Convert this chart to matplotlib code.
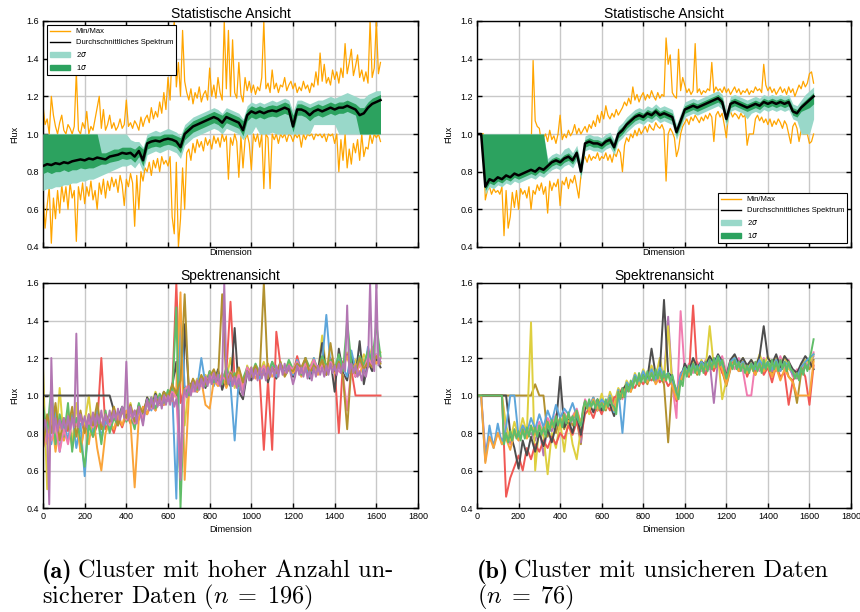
import numpy as np
import matplotlib.pyplot as plt
from matplotlib.lines import Line2D
from matplotlib.patches import Patch

# dimension grids (every 20 / every 10 dimensions)
X20 = np.arange(0, 1621, 20)
X10 = np.arange(0, 1621, 10)

# ---- cluster (a): statistics ----
mean_a = [0.83, 0.84, 0.835, 0.845, 0.84, 0.85, 0.845, 0.855, 0.86, 0.865,
          0.86, 0.87, 0.865, 0.875, 0.87, 0.865, 0.88, 0.885, 0.89, 0.90,
          0.895, 0.90, 0.88, 0.91, 0.86, 0.95, 0.96, 0.965, 0.96, 0.97,
          0.975, 0.97, 0.96, 0.93, 1.00, 1.02, 1.04, 1.05, 1.06, 1.07,
          1.08, 1.09, 1.08, 1.06, 1.09, 1.08, 1.07, 1.06, 1.02, 1.10,
          1.12, 1.11, 1.12, 1.11, 1.12, 1.125, 1.12, 1.13, 1.14, 1.13,
          1.04, 1.13, 1.13, 1.12, 1.10, 1.12, 1.13, 1.12, 1.13, 1.14,
          1.13, 1.14, 1.14, 1.15, 1.14, 1.13, 1.10, 1.11, 1.14, 1.16,
          1.17, 1.18]
up1_a = [1.00, 1.00, 1.00, 1.00, 1.00, 1.00, 1.00, 1.00, 1.00, 1.00,
         1.00, 1.00, 1.00, 1.00, 0.90, 0.90, 0.91, 0.92, 0.92, 0.93,
         0.93, 0.93, 0.92, 0.94, 0.92, 0.98, 0.99, 0.99, 0.99, 1.00,
         1.00, 1.00, 0.99, 0.98, 1.03, 1.05, 1.07, 1.08, 1.09, 1.10,
         1.11, 1.12, 1.11, 1.10, 1.12, 1.11, 1.10, 1.09, 1.07, 1.13,
         1.15, 1.14, 1.15, 1.14, 1.15, 1.155, 1.15, 1.16, 1.17, 1.16,
         1.10, 1.16, 1.16, 1.15, 1.14, 1.15, 1.16, 1.15, 1.16, 1.17,
         1.16, 1.17, 1.17, 1.18, 1.17, 1.16, 1.14, 1.14, 1.17, 1.19,
         1.20, 1.21]
lo1_a = [0.79, 0.80, 0.79, 0.80, 0.80, 0.81, 0.80, 0.81, 0.81, 0.82,
         0.815, 0.82, 0.82, 0.83, 0.84, 0.84, 0.85, 0.855, 0.86, 0.87,
         0.865, 0.87, 0.85, 0.88, 0.83, 0.92, 0.93, 0.935, 0.93, 0.94,
         0.945, 0.94, 0.93, 0.90, 0.97, 0.99, 1.01, 1.02, 1.03, 1.04,
         1.05, 1.06, 1.05, 1.03, 1.06, 1.05, 1.04, 1.03, 0.99, 1.07,
         1.09, 1.08, 1.09, 1.08, 1.09, 1.095, 1.09, 1.10, 1.11, 1.10,
         1.01, 1.10, 1.10, 1.09, 1.07, 1.09, 1.10, 1.09, 1.10, 1.11,
         1.10, 1.11, 1.11, 1.12, 1.11, 1.10, 1.00, 1.00, 1.00, 1.00,
         1.00, 1.00]
up2_a = [1.00, 1.00, 1.00, 1.00, 1.00, 1.00, 1.00, 1.00, 1.00, 1.00,
         1.00, 1.00, 1.00, 1.00, 1.00, 1.00, 1.00, 1.00, 1.00, 1.00,
         1.00, 0.97, 0.96, 0.96, 0.93, 1.00, 1.01, 1.02, 1.01, 1.02,
         1.03, 1.02, 1.01, 0.99, 1.05, 1.07, 1.09, 1.10, 1.11, 1.12,
         1.13, 1.14, 1.13, 1.11, 1.14, 1.13, 1.12, 1.11, 1.08, 1.15,
         1.17, 1.16, 1.17, 1.16, 1.17, 1.18, 1.17, 1.18, 1.19, 1.18,
         1.12, 1.18, 1.18, 1.17, 1.16, 1.17, 1.18, 1.18, 1.19, 1.20,
         1.19, 1.20, 1.21, 1.22, 1.21, 1.20, 1.19, 1.19, 1.21, 1.22,
         1.23, 1.23]
lo2_a = [0.70, 0.71, 0.71, 0.72, 0.72, 0.73, 0.73, 0.74, 0.74, 0.75,
         0.75, 0.76, 0.76, 0.77, 0.78, 0.79, 0.80, 0.81, 0.82, 0.83,
         0.83, 0.84, 0.82, 0.85, 0.80, 0.89, 0.90, 0.91, 0.90, 0.91,
         0.92, 0.91, 0.90, 0.87, 0.94, 0.96, 0.98, 0.99, 1.00, 1.01,
         1.02, 1.03, 1.02, 1.00, 1.03, 1.02, 1.01, 1.00, 0.97, 1.00,
         1.00, 1.04, 1.00, 1.00, 1.00, 1.01, 1.00, 1.00, 1.00, 1.00,
         1.00, 1.00, 1.00, 1.00, 1.00, 1.05, 1.05, 1.05, 1.05, 1.05,
         1.05, 1.00, 1.00, 1.00, 1.00, 1.00, 1.00, 1.00, 1.00, 1.00,
         1.00, 1.00]
max_a = [1.15, 1.05, 1.08, 1.00, 1.20, 1.10, 1.04, 1.00, 1.06, 1.10,
         1.02, 1.00, 1.05, 1.03, 1.00, 1.04, 1.33, 1.02, 1.00, 1.06,
         1.03, 1.12, 1.00, 1.04, 1.02, 1.08, 1.14, 1.20, 1.03, 1.13,
         1.02, 1.05, 1.10, 1.03, 1.06, 1.02, 1.04, 1.08, 1.03, 1.05,
         1.18, 1.04, 1.06, 1.03, 1.07, 1.05, 1.02, 1.09, 1.04, 1.08,
         1.10, 1.06, 1.14, 1.08, 1.12, 1.09, 1.17, 1.11, 1.22, 1.13,
         1.30, 1.18, 1.45, 1.60, 1.25, 1.38, 1.20, 1.55, 1.28, 1.22,
         1.18, 1.24, 1.16, 1.22, 1.19, 1.25, 1.17, 1.21, 1.23, 1.18,
         1.35, 1.20, 1.26, 1.19, 1.30, 1.22, 1.18, 1.60, 1.24, 1.55,
         1.20, 1.50, 1.22, 1.19, 1.38, 1.21, 1.17, 1.30, 1.23, 1.28,
         1.22, 1.26, 1.21, 1.25, 1.23, 1.30, 1.60, 1.24, 1.27, 1.22,
         1.34, 1.24, 1.27, 1.22, 1.26, 1.25, 1.30, 1.23, 1.26, 1.28,
         1.24, 1.27, 1.22, 1.25, 1.23, 1.28, 1.24, 1.26, 1.22, 1.27,
         1.25, 1.33, 1.26, 1.43, 1.28, 1.37, 1.27, 1.30, 1.26, 1.34,
         1.29, 1.33, 1.27, 1.35, 1.30, 1.48, 1.32, 1.38, 1.45, 1.31,
         1.36, 1.42, 1.30, 1.34, 1.28, 1.33, 1.27, 1.60, 1.30, 1.35,
         1.60, 1.32, 1.38]
min_a = [0.68, 0.50, 0.62, 0.72, 0.42, 0.66, 0.55, 0.70, 0.58, 0.73,
         0.64, 0.72, 0.60, 0.74, 0.66, 0.70, 0.43, 0.72, 0.65, 0.74,
         0.63, 0.72, 0.67, 0.75, 0.65, 0.70, 0.60, 0.74, 0.68, 0.76,
         0.66, 0.75, 0.70, 0.77, 0.72, 0.76, 0.69, 0.78, 0.73, 0.62,
         0.76, 0.72, 0.79, 0.74, 0.51, 0.78, 0.60, 0.80, 0.75, 0.82,
         0.80, 0.85, 0.78, 0.86, 0.82, 0.87, 0.80, 0.88, 0.84, 0.86,
         0.83, 0.88, 0.56, 0.47, 0.85, 0.40, 0.55, 0.82, 0.60, 0.90,
         0.92, 0.86, 0.95, 0.90, 0.97, 0.93, 0.96, 0.91, 0.98, 0.94,
         0.97, 0.92, 0.99, 0.95, 0.98, 0.93, 1.00, 0.96, 0.99, 0.76,
         0.98, 0.94, 1.00, 0.96, 0.77, 0.99, 0.82, 0.97, 1.00, 0.95,
         0.81, 1.00, 0.96, 1.00, 0.93, 1.00, 0.71, 1.00, 0.98, 0.71,
         1.00, 0.97, 1.00, 0.95, 1.00, 0.98, 1.00, 0.96, 1.00, 0.99,
         0.96, 1.00, 0.98, 1.00, 0.93, 1.00, 0.97, 1.00, 0.99, 1.00,
         0.97, 1.00, 0.99, 1.00, 0.98, 1.00, 0.96, 1.00, 0.99, 1.00,
         0.95, 1.00, 0.80, 0.97, 0.86, 1.00, 0.82, 0.92, 0.84, 0.95,
         0.90, 0.97, 0.86, 1.00, 0.88, 0.93, 0.92, 1.00, 0.95, 1.00,
         0.98, 1.00, 0.96]

# ---- cluster (b): statistics ----
mean_b = [1.00, 1.00, 0.72, 0.76, 0.75, 0.77, 0.76, 0.78, 0.77, 0.79,
          0.78, 0.79, 0.80, 0.81, 0.80, 0.82, 0.81, 0.83, 0.85, 0.86,
          0.85, 0.87, 0.88, 0.86, 0.90, 0.80, 0.95, 0.96, 0.95, 0.95,
          0.94, 0.96, 0.97, 0.93, 1.00, 1.02, 1.05, 1.07, 1.09, 1.10,
          1.09, 1.11, 1.10, 1.12, 1.10, 1.11, 1.10, 1.09, 1.01, 1.07,
          1.13, 1.14, 1.15, 1.14, 1.15, 1.16, 1.17, 1.18, 1.19, 1.17,
          1.08, 1.16, 1.17, 1.16, 1.15, 1.14, 1.15, 1.16, 1.15, 1.17,
          1.16, 1.17, 1.16, 1.17, 1.16, 1.17, 1.12, 1.11, 1.14, 1.16,
          1.18, 1.20]
up1_b = [1.00, 1.00, 1.00, 1.00, 1.00, 1.00, 1.00, 1.00, 1.00, 1.00,
         1.00, 1.00, 1.00, 1.00, 1.00, 1.00, 1.00, 0.85, 0.87, 0.88,
         0.87, 0.89, 0.90, 0.88, 0.92, 0.83, 0.97, 0.98, 0.97, 0.97,
         0.96, 0.98, 0.99, 0.95, 1.02, 1.04, 1.07, 1.09, 1.11, 1.12,
         1.11, 1.13, 1.12, 1.14, 1.12, 1.13, 1.12, 1.11, 1.03, 1.09,
         1.15, 1.16, 1.17, 1.16, 1.17, 1.18, 1.19, 1.20, 1.21, 1.19,
         1.10, 1.18, 1.19, 1.18, 1.17, 1.16, 1.17, 1.18, 1.17, 1.19,
         1.18, 1.19, 1.18, 1.19, 1.18, 1.19, 1.14, 1.13, 1.16, 1.18,
         1.20, 1.22]
lo1_b = [1.00, 1.00, 0.70, 0.74, 0.73, 0.75, 0.74, 0.76, 0.75, 0.77,
         0.76, 0.77, 0.78, 0.79, 0.78, 0.80, 0.79, 0.81, 0.83, 0.84,
         0.83, 0.85, 0.86, 0.84, 0.88, 0.78, 0.93, 0.94, 0.93, 0.93,
         0.92, 0.94, 0.95, 0.91, 0.98, 1.00, 1.03, 1.05, 1.07, 1.08,
         1.07, 1.09, 1.08, 1.10, 1.08, 1.09, 1.08, 1.07, 0.99, 1.05,
         1.11, 1.12, 1.13, 1.12, 1.13, 1.14, 1.15, 1.16, 1.17, 1.15,
         1.06, 1.14, 1.15, 1.14, 1.13, 1.12, 1.13, 1.14, 1.13, 1.15,
         1.14, 1.15, 1.14, 1.15, 1.14, 1.15, 1.10, 1.09, 1.12, 1.13,
         1.14, 1.16]
up2_b = [1.00, 1.00, 1.00, 1.00, 1.00, 1.00, 1.00, 1.00, 1.00, 1.00,
         1.00, 1.00, 1.00, 1.00, 1.00, 1.00, 1.00, 0.87, 0.89, 0.90,
         0.89, 0.92, 0.93, 0.90, 0.94, 0.85, 0.99, 1.00, 0.99, 0.99,
         0.98, 1.00, 1.01, 0.97, 1.04, 1.06, 1.09, 1.11, 1.13, 1.14,
         1.13, 1.15, 1.14, 1.16, 1.14, 1.15, 1.14, 1.13, 1.05, 1.11,
         1.17, 1.18, 1.19, 1.18, 1.19, 1.20, 1.21, 1.22, 1.23, 1.21,
         1.12, 1.20, 1.21, 1.20, 1.19, 1.18, 1.19, 1.20, 1.19, 1.21,
         1.20, 1.21, 1.20, 1.21, 1.20, 1.21, 1.16, 1.15, 1.18, 1.21,
         1.23, 1.25]
lo2_b = [1.00, 1.00, 0.68, 0.72, 0.71, 0.73, 0.72, 0.74, 0.73, 0.75,
         0.74, 0.75, 0.76, 0.77, 0.76, 0.78, 0.77, 0.79, 0.81, 0.82,
         0.81, 0.83, 0.84, 0.82, 0.86, 0.76, 0.91, 0.92, 0.91, 0.91,
         0.90, 0.92, 0.93, 0.89, 0.96, 0.98, 1.01, 1.03, 1.05, 1.06,
         1.05, 1.07, 1.06, 1.08, 1.06, 1.07, 1.06, 1.05, 0.97, 1.03,
         1.09, 1.10, 1.11, 1.10, 1.11, 1.12, 1.13, 1.14, 1.15, 1.13,
         1.04, 1.12, 1.13, 1.12, 1.11, 1.08, 1.11, 1.12, 1.11, 1.13,
         1.12, 1.13, 1.12, 1.13, 1.12, 1.13, 1.08, 1.07, 1.00, 1.00,
         1.00, 1.08]
max_b = [1.00, 1.00, 1.00, 1.00, 0.82, 0.85, 0.80, 0.86, 0.82, 0.84,
         0.83, 0.86, 0.84, 0.88, 0.85, 0.87, 0.90, 0.86, 0.88, 0.85,
         0.87, 0.89, 0.86, 0.90, 0.88, 0.91, 0.89, 1.39, 1.07, 1.04,
         1.03, 0.95, 0.98, 1.00, 0.96, 1.02, 0.97, 0.99, 0.95, 1.00,
         1.10, 0.97, 1.00, 0.98, 1.02, 0.99, 1.01, 1.05, 1.00, 1.03,
         1.00, 1.02, 1.04, 1.01, 1.05, 1.03, 1.07, 1.04, 1.10, 1.06,
         1.12, 1.08, 1.15, 1.10, 1.08, 1.11, 1.09, 1.13, 1.10, 1.12,
         1.14, 1.17, 1.15, 1.19, 1.16, 1.25, 1.18, 1.21, 1.17, 1.20,
         1.22, 1.18, 1.21, 1.19, 1.23, 1.20, 1.18, 1.22, 1.19, 1.21,
         1.20, 1.51, 1.37, 1.42, 1.22, 1.20, 1.19, 1.45, 1.23, 1.30,
         1.26, 1.22, 1.24, 1.21, 1.23, 1.48, 1.22, 1.24, 1.21, 1.23,
         1.22, 1.24, 1.23, 1.38, 1.22, 1.25, 1.23, 1.24, 1.22, 1.25,
         1.22, 1.24, 1.21, 1.23, 1.25, 1.22, 1.24, 1.21, 1.23, 1.22,
         1.24, 1.21, 1.23, 1.22, 1.25, 1.23, 1.24, 1.22, 1.37, 1.26,
         1.23, 1.25, 1.22, 1.24, 1.21, 1.23, 1.25, 1.22, 1.24, 1.21,
         1.25, 1.22, 1.24, 1.20, 1.23, 1.26, 1.24, 1.28, 1.25, 1.27,
         1.32, 1.33, 1.27]
min_b = [1.00, 1.00, 1.00, 1.00, 0.65, 0.70, 0.72, 0.68, 0.71, 0.69,
         0.70, 0.68, 0.72, 0.46, 0.70, 0.50, 0.56, 0.69, 0.61, 0.70,
         0.60, 0.71, 0.68, 0.70, 0.66, 0.72, 0.60, 0.70, 0.68, 0.73,
         0.70, 0.74, 0.68, 0.72, 0.58, 0.75, 0.70, 0.74, 0.72, 0.76,
         0.62, 0.75, 0.73, 0.77, 0.71, 0.76, 0.74, 0.78, 0.72, 0.66,
         0.78, 0.86, 0.88, 0.85, 0.89, 0.86, 0.88, 0.87, 0.90, 0.86,
         0.88, 0.87, 0.90, 0.86, 0.89, 0.85, 0.90, 0.88, 0.92, 0.90,
         0.80, 0.94, 0.98, 0.96, 1.00, 0.98, 1.02, 0.99, 1.03, 1.00,
         1.02, 1.04, 1.01, 1.05, 1.03, 1.02, 1.06, 1.04, 1.03, 1.05,
         1.02, 0.75, 1.00, 1.03, 1.01, 0.98, 0.88, 0.92, 1.00, 1.04,
         1.06, 1.08, 1.05, 1.09, 1.07, 1.10, 1.08, 1.06, 1.09, 1.07,
         1.10, 1.08, 1.11, 1.09, 0.96, 1.10, 1.12, 1.09, 1.11, 1.05,
         0.98, 1.10, 1.12, 1.09, 1.11, 1.10, 1.08, 1.11, 1.09, 1.10,
         0.94, 1.00, 1.00, 1.00, 1.08, 1.10, 1.07, 1.09, 1.06, 1.08,
         1.05, 1.08, 1.04, 1.07, 1.05, 1.08, 1.06, 1.03, 1.07, 1.05,
         1.00, 0.95, 1.04, 1.06, 1.03, 0.96, 1.02, 1.00, 1.00, 1.00,
         0.95, 0.96, 1.00]

# ---- cluster (a): single spectra, in drawing order ----
spec_a = {
    "#DECF3F": [1.15, 0.50, 0.95, 0.72, 1.04, 0.76, 0.88, 0.74, 0.96, 0.70,
                0.86, 1.00, 0.78, 0.92, 0.76, 0.88, 0.82, 0.94, 0.86, 0.91,
                0.88, 0.96, 0.84, 0.93, 0.90, 0.99, 0.95, 1.02, 0.96, 1.00,
                0.98, 1.04, 1.00, 1.32, 0.84, 1.06, 1.03, 1.09, 1.05, 1.11,
                1.07, 1.13, 1.06, 1.10, 1.08, 1.20, 1.04, 1.12, 1.00, 1.16,
                1.10, 1.14, 1.12, 1.18, 1.09, 1.15, 1.13, 1.17, 1.11, 1.16,
                1.14, 1.19, 1.12, 1.17, 1.15, 1.20, 1.12, 1.32, 1.14, 1.18,
                1.13, 1.20, 1.16, 1.23, 1.12, 1.19, 1.15, 1.22, 1.17, 1.26,
                1.19, 1.23],
    "#F15854": [0.84, 0.88, 0.82, 0.90, 0.83, 0.87, 0.81, 0.89, 0.85, 0.88,
                0.80, 0.86, 0.78, 0.84, 1.20, 0.82, 0.86, 0.80, 0.88, 0.83,
                0.90, 0.85, 0.92, 0.87, 0.94, 0.90, 0.97, 0.92, 1.00, 0.95,
                0.99, 1.02, 1.60, 0.96, 1.05, 1.00, 1.08, 1.03, 1.10, 1.05,
                1.13, 1.07, 1.09, 1.05, 1.12, 1.50, 1.08, 1.14, 1.06, 1.12,
                1.09, 1.15, 1.10, 0.71, 1.08, 0.71, 1.34, 1.16, 1.12, 1.18,
                1.11, 1.21, 1.13, 1.16, 1.10, 1.19, 1.14, 1.17, 1.12, 1.20,
                1.15, 0.80, 1.18, 1.22, 1.14, 1.00, 1.00, 1.00, 1.00, 1.00,
                1.00, 1.00],
    "#4D4D4D": [1.00, 1.00, 1.00, 1.00, 1.00, 1.00, 1.00, 1.00, 1.00, 1.00,
                1.00, 1.00, 1.00, 1.00, 1.00, 1.00, 1.00, 0.92, 0.88, 0.94,
                0.90, 0.93, 0.86, 0.95, 0.89, 0.99, 0.93, 1.01, 0.95, 1.02,
                0.98, 1.05, 1.18, 0.50, 1.38, 1.04, 1.08, 1.02, 1.10, 1.04,
                1.12, 1.06, 1.14, 1.03, 1.10, 1.05, 1.36, 1.02, 0.98, 1.12,
                1.08, 1.16, 1.10, 1.14, 1.07, 1.15, 1.09, 1.17, 1.12, 1.16,
                1.10, 1.18, 1.12, 1.20, 1.09, 1.17, 1.13, 1.28, 1.11, 1.19,
                1.02, 1.25, 1.12, 1.08, 1.22, 1.10, 1.29, 1.06, 1.18, 1.13,
                1.20, 1.15],
    "#5DA5DA": [0.78, 0.88, 0.74, 0.92, 0.70, 0.86, 0.76, 0.90, 0.72, 0.85,
                0.57, 0.88, 0.80, 0.92, 0.78, 0.86, 0.83, 0.90, 0.85, 0.93,
                0.87, 0.91, 0.84, 0.95, 0.86, 0.98, 0.92, 1.00, 0.95, 1.01,
                0.97, 1.03, 0.45, 1.44, 1.05, 1.02, 1.08, 1.04, 1.20, 1.06,
                1.10, 1.05, 1.12, 1.08, 1.14, 1.06, 0.76, 1.09, 1.03, 1.14,
                1.10, 1.16, 1.09, 1.15, 1.11, 1.18, 1.10, 1.17, 1.12, 1.15,
                1.11, 1.19, 1.14, 1.17, 1.10, 1.20, 1.13, 1.18, 1.43, 1.16,
                1.12, 1.21, 1.15, 1.10, 1.24, 1.14, 1.19, 1.12, 1.26, 1.16,
                1.22, 1.18],
    "#FAA43A": [0.82, 0.74, 0.90, 0.70, 0.86, 0.76, 0.92, 0.72, 0.88, 0.70,
                0.84, 0.74, 0.90, 0.72, 0.60, 0.80, 0.86, 0.82, 0.90, 0.84,
                0.92, 0.86, 0.51, 0.88, 0.94, 0.90, 0.97, 0.92, 0.99, 0.95,
                1.02, 0.97, 1.04, 1.55, 0.55, 1.00, 1.06, 1.02, 1.08, 0.95,
                0.93, 1.08, 1.05, 1.12, 1.04, 1.10, 1.07, 1.13, 1.04, 1.12,
                1.15, 1.09, 1.14, 1.11, 1.17, 1.10, 1.13, 1.16, 1.11, 1.18,
                1.12, 1.15, 1.10, 1.17, 1.13, 1.16, 1.11, 1.19, 1.14, 1.17,
                1.12, 1.18, 1.15, 1.21, 1.13, 1.17, 1.11, 1.19, 1.15, 1.22,
                1.17, 1.20],
    "#60BD68": [0.95, 0.80, 1.05, 0.74, 0.90, 0.78, 0.96, 0.70, 0.88, 0.76,
                0.62, 0.84, 0.78, 0.90, 0.74, 0.92, 0.80, 0.88, 0.84, 0.94,
                0.86, 0.90, 0.82, 0.96, 0.88, 0.95, 0.99, 0.93, 1.01, 0.96,
                1.03, 0.98, 1.47, 0.40, 1.04, 1.00, 1.07, 1.03, 1.10, 1.05,
                1.13, 1.07, 1.11, 1.06, 1.15, 1.08, 1.12, 1.05, 1.09, 1.15,
                1.11, 1.17, 1.12, 1.16, 1.10, 1.18, 1.13, 1.15, 1.12, 1.19,
                1.14, 1.17, 1.11, 1.20, 1.15, 1.18, 1.13, 1.21, 1.16, 1.19,
                1.14, 1.22, 1.13, 1.40, 1.17, 1.12, 1.21, 1.16, 1.24, 1.18,
                1.38, 1.21],
    "#F17CB0": [0.72, 0.80, 0.76, 0.84, 0.70, 0.82, 0.74, 0.86, 0.84, 0.88,
                0.82, 0.86, 0.83, 0.89, 0.85, 0.88, 0.84, 0.90, 0.86, 0.92,
                0.87, 0.90, 0.85, 0.93, 0.88, 0.96, 0.93, 0.98, 0.95, 1.00,
                0.97, 1.02, 0.99, 0.56, 1.03, 1.06, 1.02, 1.08, 1.05, 1.10,
                1.07, 1.12, 1.06, 1.10, 1.08, 1.13, 1.06, 1.11, 1.03, 1.15,
                1.11, 1.14, 1.12, 1.16, 1.10, 1.15, 1.13, 1.17, 1.11, 1.16,
                1.14, 1.18, 1.12, 1.17, 1.14, 1.19, 1.13, 1.16, 1.12, 1.18,
                1.15, 1.13, 1.11, 0.92, 1.15, 1.10, 1.17, 1.14, 1.20, 1.16,
                1.22, 1.18],
    "#B2912F": [0.72, 0.90, 0.80, 0.96, 0.76, 0.88, 0.82, 0.94, 0.78, 0.92,
                0.80, 0.90, 0.84, 0.96, 0.82, 0.90, 0.86, 0.94, 0.84, 0.92,
                0.88, 0.95, 0.86, 0.94, 0.91, 0.97, 0.94, 0.99, 0.96, 1.02,
                0.99, 1.06, 1.01, 1.08, 1.54, 1.02, 1.09, 1.04, 1.11, 1.06,
                1.10, 1.14, 1.08, 1.54, 1.06, 1.12, 1.09, 1.15, 1.07, 1.13,
                1.10, 1.16, 1.11, 1.60, 1.09, 1.15, 1.12, 1.18, 1.10, 1.14,
                1.13, 1.17, 1.15, 1.20, 1.12, 1.16, 1.14, 1.19, 1.11, 1.28,
                1.13, 1.18, 1.10, 0.82, 1.16, 1.12, 1.20, 1.14, 1.18, 1.15,
                1.21, 1.17],
    # last spectrum, sampled every 10 dimensions
    "#B276B2": [0.80, 0.87, 0.81, 0.42, 1.20, 0.80, 0.88, 0.81, 0.87, 0.82,
                0.88, 0.81, 0.89, 0.82, 0.88, 0.83, 1.33, 0.83, 0.90, 0.84,
                0.89, 0.83, 0.90, 0.84, 0.91, 0.84, 0.90, 0.85, 0.92, 0.84,
                0.90, 0.85, 0.92, 0.86, 0.92, 0.87, 0.93, 0.87, 0.94, 0.88,
                1.18, 0.87, 0.94, 0.88, 0.92, 0.85, 0.94, 0.89, 0.84, 0.92,
                0.98, 0.92, 0.99, 0.93, 1.00, 0.94, 0.99, 0.93, 1.00, 0.95,
                1.00, 0.95, 1.01, 0.94, 0.98, 0.92, 0.55, 0.98, 1.03, 0.99,
                1.05, 1.00, 1.07, 1.02, 1.08, 1.03, 1.09, 1.04, 1.10, 1.05,
                1.11, 1.06, 1.12, 1.07, 1.11, 1.05, 1.09, 1.60, 1.12, 1.06,
                1.11, 1.05, 1.10, 1.04, 1.09, 1.03, 1.00, 1.07, 1.13, 1.08,
                1.15, 1.09, 1.14, 1.08, 1.15, 1.09, 1.14, 1.08, 1.15, 1.10,
                1.15, 1.10, 1.16, 1.10, 1.17, 1.11, 1.17, 1.12, 1.16, 1.11,
                1.06, 1.10, 1.16, 1.11, 1.15, 1.10, 1.15, 1.09, 1.13, 1.08,
                1.15, 1.10, 1.16, 1.11, 1.15, 1.10, 1.16, 1.11, 1.17, 1.12,
                1.16, 1.11, 1.17, 1.12, 1.17, 1.13, 1.48, 1.12, 1.17, 1.12,
                1.16, 1.10, 1.13, 1.08, 1.14, 1.10, 1.16, 1.60, 1.18, 1.13,
                1.60, 1.16, 1.20],
}

# ---- cluster (b): single spectra, in drawing order ----
spec_b = {
    "#F17CB0": [1.00, 1.00, 1.00, 1.00, 1.00, 1.00, 1.00, 0.80, 0.74, 0.82,
                0.76, 0.84, 0.78, 0.83, 0.80, 0.86, 0.79, 0.88, 0.84, 0.90,
                0.82, 0.91, 0.86, 0.89, 0.93, 0.85, 0.98, 0.93, 0.99, 0.92,
                0.97, 0.93, 1.00, 0.95, 1.03, 0.98, 1.07, 1.03, 1.11, 1.06,
                1.12, 1.07, 1.13, 1.08, 1.14, 1.07, 1.12, 1.06, 0.88, 1.45,
                1.12, 1.17, 1.12, 1.18, 1.13, 1.19, 1.14, 1.20, 1.16, 1.21,
                1.12, 1.19, 1.14, 1.20, 1.13, 1.00, 1.00, 1.18, 1.13, 1.20,
                1.14, 1.19, 1.13, 1.21, 1.14, 1.19, 1.10, 1.14, 1.12, 1.18,
                1.15, 1.23],
    "#B2912F": [1.00, 1.00, 1.00, 1.00, 1.00, 1.00, 1.00, 1.00, 1.00, 1.00,
                1.00, 1.00, 1.00, 1.00, 1.06, 1.00, 1.00, 0.78, 0.86, 0.80,
                0.88, 0.82, 0.90, 0.84, 0.87, 0.74, 0.97, 0.91, 0.98, 0.92,
                0.96, 0.92, 0.99, 0.90, 1.02, 0.99, 1.06, 1.02, 1.10, 1.05,
                1.12, 1.06, 1.13, 1.08, 1.11, 1.06, 0.75, 1.08, 1.03, 1.06,
                1.14, 1.10, 1.16, 1.11, 1.17, 1.12, 1.18, 1.14, 1.20, 1.13,
                1.05, 1.14, 1.18, 1.13, 1.17, 1.12, 1.16, 1.11, 1.18, 1.13,
                1.17, 1.12, 1.19, 1.13, 1.18, 1.10, 1.08, 0.96, 1.12, 1.16,
                1.14, 1.19],
    "#B276B2": [1.00, 1.00, 0.70, 0.78, 0.74, 0.80, 0.76, 0.79, 0.75, 0.81,
                0.77, 0.82, 0.78, 0.80, 0.76, 0.83, 0.68, 0.85, 0.81, 0.87,
                0.83, 0.89, 0.84, 0.87, 0.91, 0.75, 0.96, 0.93, 0.97, 0.92,
                0.96, 0.93, 0.98, 0.92, 1.02, 1.00, 1.06, 1.03, 1.10, 1.06,
                1.11, 1.08, 1.12, 1.07, 1.13, 1.09, 1.42, 1.06, 0.99, 1.08,
                1.14, 1.11, 1.16, 1.12, 1.17, 1.13, 1.18, 0.96, 1.19, 1.15,
                1.07, 1.15, 1.18, 1.14, 1.17, 1.12, 1.16, 1.13, 1.17, 1.14,
                1.18, 1.13, 1.17, 1.14, 1.18, 1.15, 1.11, 1.09, 1.13, 1.15,
                1.17, 1.21],
    "#DECF3F": [1.00, 1.00, 1.00, 1.00, 1.00, 1.00, 1.00, 0.84, 0.76, 0.86,
                0.78, 0.88, 0.80, 1.39, 0.60, 0.84, 0.78, 0.58, 0.80, 0.72,
                0.86, 0.70, 0.88, 0.74, 0.66, 0.82, 0.96, 0.90, 0.99, 0.92,
                1.01, 0.93, 1.02, 0.96, 1.04, 1.00, 1.08, 1.04, 1.12, 1.07,
                1.14, 1.09, 1.16, 1.10, 1.20, 1.08, 1.37, 1.05, 1.01, 1.10,
                1.16, 1.12, 1.18, 1.13, 1.19, 1.14, 1.37, 1.15, 1.21, 0.98,
                1.08, 1.17, 1.21, 1.16, 1.20, 1.14, 1.19, 1.15, 1.22, 1.16,
                1.21, 1.15, 1.20, 1.16, 1.21, 1.14, 1.13, 1.10, 1.16, 1.19,
                1.17, 1.22],
    "#F15854": [1.00, 1.00, 1.00, 1.00, 1.00, 1.00, 1.00, 0.46, 0.56, 0.62,
                0.68, 0.60, 0.72, 0.66, 0.74, 0.70, 0.76, 0.72, 0.78, 0.74,
                0.80, 0.77, 0.84, 0.79, 0.86, 0.78, 0.90, 0.93, 0.88, 0.95,
                0.90, 0.96, 0.92, 0.99, 1.00, 1.04, 1.02, 1.06, 1.04, 1.09,
                1.06, 1.10, 1.08, 1.12, 1.07, 1.10, 1.05, 1.08, 0.97, 1.12,
                1.14, 1.10, 1.48, 1.12, 1.16, 1.11, 1.17, 1.13, 1.19, 1.12,
                1.09, 1.15, 1.19, 1.13, 1.18, 1.10, 1.16, 1.12, 1.17, 1.11,
                1.15, 1.07, 1.16, 1.10, 1.12, 0.95, 1.08, 1.12, 1.15, 1.10,
                0.95, 1.16],
    "#4D4D4D": [1.00, 1.00, 1.00, 1.00, 1.00, 1.00, 1.00, 1.00, 0.80, 0.72,
                0.61, 0.76, 0.68, 0.78, 0.70, 0.80, 0.73, 0.82, 0.75, 0.84,
                1.10, 0.83, 0.87, 0.80, 0.90, 0.79, 0.93, 0.96, 0.91, 0.98,
                0.92, 0.97, 0.95, 0.89, 0.99, 1.03, 1.06, 1.04, 1.09, 1.07,
                1.11, 1.09, 1.25, 1.11, 1.13, 1.51, 1.12, 1.10, 1.00, 1.09,
                1.17, 1.13, 1.20, 1.15, 1.18, 1.16, 1.21, 1.17, 1.22, 1.18,
                1.10, 1.19, 1.22, 1.17, 1.20, 1.16, 1.19, 1.15, 1.21, 1.37,
                1.20, 1.17, 1.22, 1.15, 1.21, 1.18, 1.14, 1.12, 1.17, 1.21,
                1.18, 1.14],
    "#5DA5DA": [1.00, 1.00, 0.65, 0.84, 0.72, 0.85, 0.74, 0.83, 1.00, 1.00,
                0.78, 0.84, 0.80, 0.88, 0.82, 0.90, 0.83, 0.92, 0.86, 0.95,
                0.88, 0.93, 0.90, 0.96, 0.89, 0.84, 0.97, 0.94, 0.99, 0.93,
                0.98, 0.95, 1.00, 0.91, 1.03, 0.80, 1.07, 1.04, 1.11, 1.07,
                1.13, 1.08, 1.14, 1.09, 1.15, 1.10, 1.12, 1.07, 1.00, 1.11,
                1.15, 1.12, 1.17, 1.13, 1.18, 1.15, 1.19, 1.16, 1.21, 1.16,
                1.09, 1.18, 1.20, 1.15, 1.18, 1.13, 1.17, 1.14, 1.19, 1.15,
                1.18, 1.14, 1.19, 1.13, 1.18, 1.16, 1.12, 1.10, 1.15, 1.18,
                1.20, 1.22],
    "#FAA43A": [1.00, 1.00, 0.64, 0.78, 0.72, 0.80, 0.74, 0.77, 0.71, 0.80,
                0.76, 0.82, 0.77, 0.84, 0.79, 0.82, 0.81, 0.86, 0.83, 0.88,
                0.84, 0.90, 0.86, 0.88, 0.92, 0.85, 0.97, 0.92, 0.98, 0.93,
                0.96, 0.94, 0.99, 0.92, 1.02, 1.00, 1.05, 1.02, 1.09, 1.06,
                1.10, 1.07, 1.12, 1.06, 1.10, 1.08, 1.11, 1.05, 0.98, 1.08,
                1.14, 1.11, 1.15, 1.12, 1.16, 1.14, 1.18, 1.15, 1.19, 1.14,
                1.06, 1.15, 1.18, 1.13, 1.17, 1.12, 1.15, 1.11, 1.17, 1.13,
                1.16, 1.10, 1.15, 1.08, 1.14, 1.10, 1.07, 1.00, 1.00, 1.00,
                1.00, 1.18],
    # last spectrum, sampled every 10 dimensions
    "#60BD68": [1.00, 1.00, 1.00, 1.00, 1.00, 1.00, 1.00, 1.00, 1.00, 1.00,
                1.00, 1.00, 1.00, 0.74, 0.80, 0.75, 0.81, 0.76, 0.82, 0.77,
                0.81, 0.76, 0.82, 0.77, 0.83, 0.78, 0.84, 0.79, 0.83, 0.78,
                0.84, 0.79, 0.83, 0.78, 0.86, 0.81, 0.87, 0.83, 0.89, 0.84,
                0.88, 0.83, 0.90, 0.85, 0.91, 0.86, 0.89, 0.84, 0.92, 0.86,
                0.84, 0.93, 0.97, 0.93, 0.98, 0.94, 0.97, 0.93, 0.98, 0.93,
                0.96, 0.92, 0.98, 0.94, 0.99, 0.95, 0.94, 0.90, 1.02, 0.98,
                1.04, 0.99, 1.06, 1.02, 1.08, 1.04, 1.10, 1.06, 1.12, 1.07,
                1.11, 1.07, 1.13, 1.08, 1.12, 1.08, 1.14, 1.09, 1.13, 1.08,
                1.13, 1.08, 1.12, 1.07, 1.11, 1.06, 1.02, 0.98, 1.08, 1.05,
                1.15, 1.10, 1.16, 1.11, 1.17, 1.12, 1.16, 1.11, 1.17, 1.12,
                1.18, 1.13, 1.19, 1.14, 1.20, 1.15, 1.21, 1.16, 1.19, 1.14,
                1.09, 1.13, 1.18, 1.14, 1.19, 1.14, 1.18, 1.13, 1.17, 1.12,
                1.16, 1.12, 1.17, 1.13, 1.18, 1.13, 1.17, 1.12, 1.19, 1.14,
                1.18, 1.13, 1.19, 1.14, 1.18, 1.13, 1.19, 1.14, 1.18, 1.13,
                1.18, 1.14, 1.13, 1.09, 1.12, 1.08, 1.15, 1.11, 1.17, 1.13,
                1.19, 1.24, 1.30],
}

ORANGE = "#FFA500"
SIG2 = "#99D8C9"
SIG1 = "#2CA25F"

plt.rcParams["font.family"] = ["Liberation Sans", "DejaVu Sans"]


def style_axes(ax, show_xticklabels):
    ax.set_xlim(0, 1800)
    ax.set_ylim(0.4, 1.6)
    ax.set_xticks(np.arange(0, 1801, 200))
    ax.set_yticks(np.arange(0.4, 1.61, 0.2))
    ax.yaxis.set_major_formatter(plt.FormatStrFormatter("%.1f"))
    ax.grid(True, color="#c8c8c8", lw=1.0)
    ax.set_axisbelow(True)
    ax.tick_params(direction="in", top=True, right=True, length=3.5,
                   width=1, labelsize=6.5, pad=3,
                   labelbottom=show_xticklabels)
    for sp in ax.spines.values():
        sp.set_linewidth(1.0)
    ax.set_ylabel("Flux", fontsize=6.5, labelpad=5)
    ax.set_xlabel("Dimension", fontsize=6.5,
                  labelpad=3 if show_xticklabels else 1)


def stats_panel(ax, mean, up1, lo1, up2, lo2, mx, mn, loc):
    ax.plot(X10, mx, color=ORANGE, lw=0.9, zorder=2)
    ax.plot(X10, mn, color=ORANGE, lw=0.9, zorder=2)
    ax.fill_between(X20, lo2, up2, color=SIG2, lw=0, zorder=3)
    ax.fill_between(X20, lo1, up1, color=SIG1, lw=0, zorder=4)
    ax.plot(X20, mean, color="black", lw=1.8, zorder=5)
    ax.set_title("Statistische Ansicht", fontsize=10, pad=2)
    handles = [Line2D([], [], color=ORANGE, lw=1),
               Line2D([], [], color="black", lw=1),
               Patch(color=SIG2), Patch(color=SIG1)]
    labels = ["Min/Max", "Durchschnittliches Spektrum", r"2$\sigma$", r"1$\sigma$"]
    leg = ax.legend(handles, labels, loc=loc, fontsize=5.5, fancybox=False,
                    edgecolor="black", framealpha=1, borderaxespad=0.5,
                    handlelength=2.6, labelspacing=0.5)
    leg.get_frame().set_linewidth(0.8)
    leg.set_zorder(10)


def spectra_panel(ax, spectra):
    for color, values in spectra.items():
        xs = X10 if len(values) == len(X10) else X20
        ax.plot(xs, values, color=color, lw=1.4)
    ax.set_title("Spektrenansicht", fontsize=10, pad=2)


fig = plt.figure(figsize=(8.6, 6.12), dpi=100)
W, H = 860.0, 612.0

ax_a1 = fig.add_axes([43 / W, 1 - 247 / H, 375 / W, 226 / H])
ax_b1 = fig.add_axes([477 / W, 1 - 247 / H, 374 / W, 226 / H])
ax_a2 = fig.add_axes([43 / W, 1 - 508 / H, 375 / W, 225 / H])
ax_b2 = fig.add_axes([477 / W, 1 - 508 / H, 374 / W, 225 / H])

stats_panel(ax_a1, mean_a, up1_a, lo1_a, up2_a, lo2_a, max_a, min_a, "upper left")
stats_panel(ax_b1, mean_b, up1_b, lo1_b, up2_b, lo2_b, max_b, min_b, "lower right")
spectra_panel(ax_a2, spec_a)
spectra_panel(ax_b2, spec_b)

for ax in (ax_a1, ax_b1):
    style_axes(ax, False)
for ax in (ax_a2, ax_b2):
    style_axes(ax, True)

# sub-figure captions: bold label, then the caption text right after it
renderer = fig.canvas.get_renderer()
cap = dict(fontsize=17.5, math_fontfamily="cm", va="baseline")


def caption(x_px, label, line1, line2):
    t = fig.text(x_px / W, 1 - 578 / H, label, family="cmb10", **cap)
    w = t.get_window_extent(renderer).width
    fig.text((x_px + w + 5) / W, 1 - 578 / H, line1, family="cmr10", **cap)
    fig.text(x_px / W, 1 - 603 / H, line2, family="cmr10", **cap)


caption(42, "(a)", "Cluster mit hoher Anzahl un-", r"sicherer Daten $(n\;=\;196)$")
caption(477, "(b)", "Cluster mit unsicheren Daten", r"$(n\;=\;76)$")

fig.savefig("out.png", dpi=100)
